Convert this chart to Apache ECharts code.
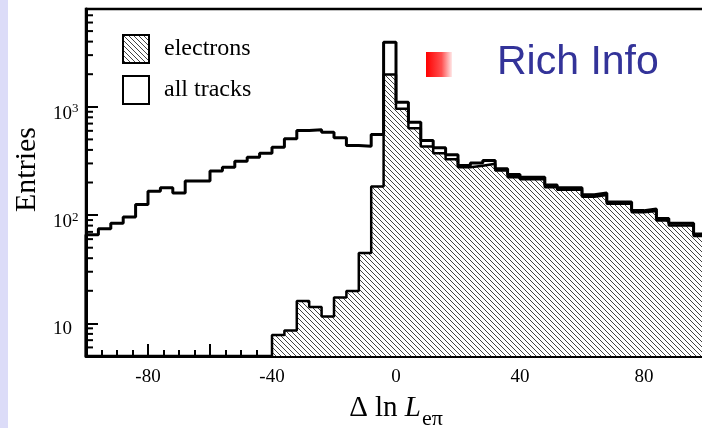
<!DOCTYPE html>
<html>
<head>
<meta charset="utf-8">
<script src="https://cdn.jsdelivr.net/npm/echarts@6/dist/echarts.min.js"></script>
<style>
  html, body { margin: 0; padding: 0; background: #fff; }
  #main { width: 702px; height: 428px; }
</style>
</head>
<body>
<div id="main"></div>
<script>
// bin edges of the histogram (width 4)
var edges = [-100, -96, -92, -88, -84, -80, -76, -72, -68, -64, -60, -56, -52, -48, -44,
  -40, -36, -32, -28, -24, -20, -16, -12, -8, -4, 0, 4, 8, 12, 16, 20, 24, 28, 32, 36,
  40, 44, 48, 52, 56, 60, 64, 68, 72, 76, 80, 84, 88, 92, 96, 100];

// entries per bin
var allTracks = [66, 75, 84, 96, 125, 166, 179, 160, 206, 206,
  255, 277, 315, 343, 373, 424, 506, 604, 613, 582,
  517, 439, 432, 555, 3940, 1102, 721, 489, 418, 360,
  287, 302, 319, 268, 237, 224, 224, 190, 179, 179,
  154, 160, 132, 132, 110, 114, 93, 84, 84, 67];
var electrons = [null, null, null, null, null, null, null, null, null, null,
  null, null, null, null, null, 7.8, 8.6, 16.1, 14.2, 11.6,
  17.3, 19.9, 44.6, 184, 1986, 958, 634, 430, 373, 328,
  277, 286, 298, 258, 224, 214, 214, 181, 171, 171,
  148, 153, 127, 127, 106, 109, 89, 80, 80, 64];

var xTicks = [-80, -40, 0, 40, 80];
var yMin = 5, yMax = 8000;
var yMinorTicks = [6, 7, 8, 9, 20, 30, 40, 50, 60, 70, 80, 90,
  200, 300, 400, 500, 600, 700, 800, 900, 2000, 3000, 4000, 5000, 6000, 7000];

var serif = 'Liberation Serif';

function stepData(vals) {
  var pts = [], last = -1;
  for (var i = 0; i < vals.length; i++) {
    if (vals[i] == null) continue;
    if (last < 0) pts.push([edges[i], yMin]);
    pts.push([edges[i], vals[i]]);
    last = i;
  }
  pts.push([edges[last + 1], vals[last]]);
  return pts;
}

function makeHatch() {
  var c = document.createElement('canvas');
  c.width = 5; c.height = 5;
  var ctx = c.getContext('2d');
  ctx.fillStyle = '#fff';
  ctx.fillRect(0, 0, 5, 5);
  ctx.strokeStyle = '#444';
  ctx.lineWidth = 1;
  ctx.beginPath();
  ctx.moveTo(-1, -1); ctx.lineTo(6, 6);
  ctx.moveTo(-1, 4); ctx.lineTo(1, 6);
  ctx.moveTo(4, -1); ctx.lineTo(6, 1);
  ctx.stroke();
  return c;
}
var hatch = { image: makeHatch(), repeat: 'repeat' };

var chart = echarts.init(document.getElementById('main'));

var option = {
  animation: false,
  backgroundColor: '#fff',
  grid: {
    left: 86, top: 9, width: 620, bottom: 72,
    outerBoundsMode: 'none', containLabel: false,
    show: true, borderColor: '#000', borderWidth: 2.5, backgroundColor: 'transparent'
  },
  legend: {
    orient: 'vertical', left: 122, top: 34, padding: 0,
    itemWidth: 26, itemHeight: 28, itemGap: 11,
    selectedMode: false,
    textStyle: { fontFamily: serif, fontSize: 24, color: '#000', padding: [0, 0, 0, 10] },
    data: [
      { name: 'electrons', icon: 'rect', itemStyle: { color: hatch, borderColor: '#000', borderWidth: 2 } },
      { name: 'all tracks', icon: 'rect', itemStyle: { color: '#fff', borderColor: '#000', borderWidth: 2 } }
    ]
  },
  xAxis: {
    type: 'value', min: -100, max: 100, interval: 20,
    axisLine: { onZero: false, lineStyle: { color: '#000', width: 3 } },
    axisTick: { inside: true, length: 12, lineStyle: { color: '#000', width: 2 } },
    minorTick: { show: true, splitNumber: 4, length: 6, lineStyle: { color: '#000', width: 2 } },
    splitLine: { show: false },
    axisLabel: {
      margin: 12, fontFamily: serif, fontSize: 19, color: '#000',
      formatter: function (v) { return xTicks.indexOf(v) >= 0 ? String(v) : ''; }
    },
    name: '{a|\u0394 ln }{L|L}{s|e\u03c0}',
    nameLocation: 'middle', nameGap: 38,
    nameTextStyle: {
      rich: {
        a: { fontFamily: serif, fontSize: 29, color: '#000', verticalAlign: 'bottom', padding: [0, 0, 7, 0] },
        L: { fontFamily: serif, fontSize: 29, fontStyle: 'italic', color: '#000', verticalAlign: 'bottom', padding: [0, 1, 7, 0] },
        s: { fontFamily: serif, fontSize: 22, color: '#000', verticalAlign: 'bottom' }
      }
    }
  },
  yAxis: {
    type: 'log', logBase: 10, min: yMin, max: yMax,
    axisLine: { onZero: false, lineStyle: { color: '#000', width: 3 } },
    axisTick: { inside: true, length: 12, lineStyle: { color: '#000', width: 2 } },
    splitLine: { show: false },
    axisLabel: {
      align: 'left', margin: 33, color: '#000', padding: [12, 0, 0, 0],
      formatter: function (v) {
        var e = Math.log10(v), r = Math.round(e);
        if (Math.abs(e - r) > 1e-6) return '';
        if (r === 1) return '{b|10}';
        return '{b|10}{s|' + r + '}';
      },
      rich: {
        b: { fontFamily: serif, fontSize: 19, color: '#000', verticalAlign: 'bottom' },
        s: { fontFamily: serif, fontSize: 13, color: '#000', verticalAlign: 'bottom', padding: [0, 0, 8, 0] }
      }
    },
    name: 'Entries', nameLocation: 'middle', nameGap: 43, nameRotate: 90,
    nameTextStyle: { fontFamily: serif, fontSize: 30, color: '#000', padding: [0, 0, 0, 26] }
  },
  series: [
    {
      name: 'electrons', type: 'line', step: 'end', symbol: 'none', z: 2,
      data: stepData(electrons),
      itemStyle: { color: '#000' },
      lineStyle: { color: '#000', width: 2.5 },
      areaStyle: { color: hatch, opacity: 1, origin: 'start' }
    },
    {
      name: 'all tracks', type: 'line', step: 'end', symbol: 'none', z: 3,
      data: stepData(allTracks),
      itemStyle: { color: '#000' },
      lineStyle: { color: '#000', width: 3 }
    },
    {
      name: 'yminor', type: 'custom', silent: true, z: 4,
      data: yMinorTicks.map(function (v) { return [-100, v]; }),
      renderItem: function (params, api) {
        var p = api.coord([api.value(0), api.value(1)]);
        return {
          type: 'line',
          shape: { x1: p[0], y1: p[1], x2: p[0] + 7, y2: p[1] },
          style: { stroke: '#000', lineWidth: 2 }
        };
      }
    }
  ],
  graphic: [
    { type: 'rect', shape: { x: 0, y: 0, width: 8, height: 428 }, style: { fill: '#dcdcf8' } },
    {
      type: 'rect', shape: { x: 426, y: 52, width: 26, height: 25 },
      style: {
        fill: new echarts.graphic.LinearGradient(0, 0, 1, 0, [
          { offset: 0, color: '#ff0000' }, { offset: 0.6, color: '#ff5050' }, { offset: 1, color: '#ffe8e8' }
        ])
      }
    },
    {
      type: 'text', x: 497, y: 63,
      style: { text: 'Rich Info', fontFamily: 'Liberation Sans', fontSize: 41, fill: '#333399', verticalAlign: 'middle' }
    }
  ]
};

chart.setOption(option);
</script>
</body>
</html>
